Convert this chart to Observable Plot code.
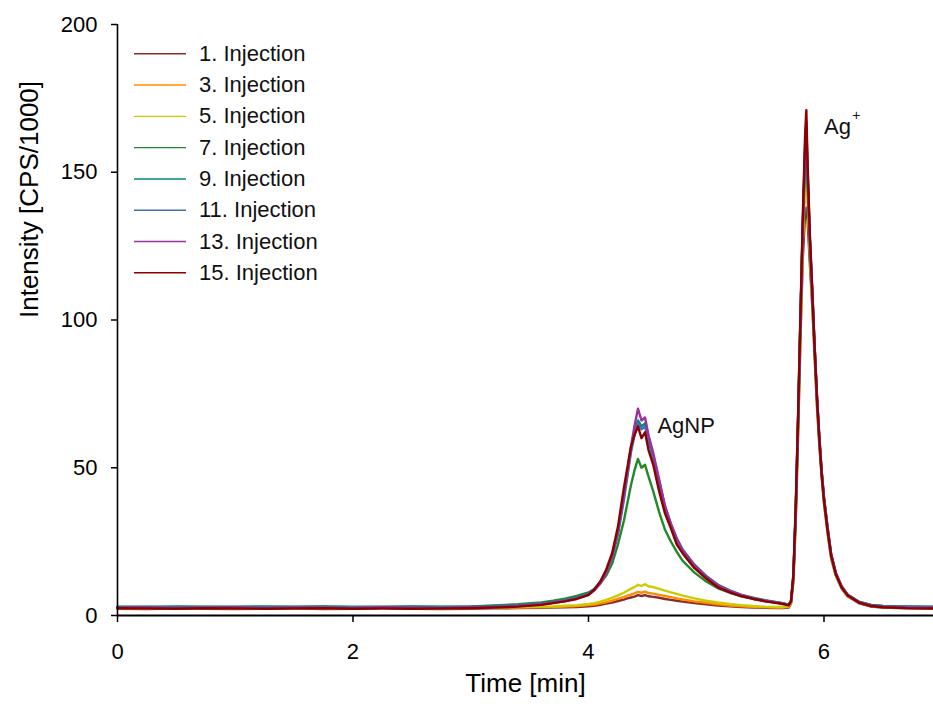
<!DOCTYPE html>
<html>
<head>
<meta charset="utf-8">
<script src="https://cdn.jsdelivr.net/npm/d3@7"></script>
<script src="https://cdn.jsdelivr.net/npm/@observablehq/plot@0.6"></script>
<style>
  html, body { margin: 0; padding: 0; background: #fff; }
  #chart { width: 933px; height: 715px; }
</style>
</head>
<body>
<div id="chart"></div>
<script>
// Time axis (min), shared by all injections
const time = [0, 0.25, 0.5, 0.75, 1, 1.25, 1.5, 1.75, 2, 2.25, 2.5, 2.75, 3, 3.2, 3.4,
  3.6, 3.7, 3.8, 3.9, 4, 4.05, 4.1, 4.15, 4.2, 4.25, 4.3, 4.33, 4.36, 4.39, 4.42, 4.45, 4.48, 4.51,
  4.55, 4.6, 4.65, 4.7, 4.75, 4.8, 4.9, 5, 5.1, 5.2, 5.3, 5.4, 5.5, 5.6, 5.65,
  5.7, 5.72, 5.74, 5.76, 5.78, 5.8, 5.82, 5.84, 5.85, 5.86, 5.88, 5.9, 5.92, 5.94, 5.96, 5.98,
  6, 6.03, 6.06, 6.1, 6.15, 6.2, 6.3, 6.4, 6.5, 6.7, 6.93];

// Intensity [CPS/1000] per injection
const inj1 = [2.3, 2.2, 2.4, 2.3, 2.2, 2.3, 2.4, 2.2, 2.3, 2.4, 2.3, 2.2, 2.3, 2.4, 2.5,
  2.6, 2.7, 2.8, 2.9, 3.1, 3.3, 3.6, 4.0, 4.4, 4.9, 5.4, 5.8, 6.1, 6.4, 6.9, 6.6, 6.9, 6.5,
  6.3, 6.0, 5.6, 5.3, 5.0, 4.7, 4.2, 3.8, 3.4, 3.1, 2.9, 2.7, 2.6, 2.5, 2.5,
  2.7, 4.0, 11.5, 32, 61, 93, 121, 136, 138, 134, 119, 105, 88, 71, 58, 47,
  38, 28, 19.5, 13.5, 9.1, 6.5, 4.1, 3.0, 2.7, 2.4, 2.3];
const inj3 = [2.5, 2.4, 2.6, 2.5, 2.4, 2.5, 2.6, 2.4, 2.5, 2.6, 2.5, 2.4, 2.5, 2.6, 2.7,
  2.8, 2.9, 3.0, 3.2, 3.5, 3.7, 4.1, 4.5, 5.0, 5.6, 6.2, 6.7, 7.1, 7.5, 8.0, 7.7, 8.1, 7.6,
  7.4, 7.0, 6.6, 6.2, 5.8, 5.4, 4.8, 4.3, 3.8, 3.4, 3.1, 2.9, 2.8, 2.7, 2.7,
  2.9, 4.2, 12, 33, 63, 96, 126, 146, 149, 141, 123, 107, 89, 72, 59, 47.5,
  38.5, 28.5, 20, 13.8, 9.3, 6.6, 4.3, 3.2, 2.9, 2.6, 2.5];
const inj5 = [2.7, 2.6, 2.8, 2.7, 2.6, 2.7, 2.8, 2.6, 2.7, 2.8, 2.6, 2.7, 2.7, 2.8, 2.9,
  3.0, 3.1, 3.3, 3.5, 3.9, 4.2, 4.7, 5.3, 6.0, 6.8, 7.7, 8.4, 9.0, 9.6, 10.4, 10.0, 10.6, 9.9,
  9.6, 9.0, 8.4, 7.8, 7.3, 6.7, 5.8, 5.0, 4.4, 3.9, 3.5, 3.2, 3.0, 2.9, 2.9,
  3.1, 4.4, 12.5, 34, 64, 97, 127, 148, 151, 143, 124, 108, 90, 73, 59.5, 48,
  39, 29, 20.5, 14, 9.5, 6.8, 4.4, 3.3, 3.0, 2.8, 2.7];
const inj7 = [3.0, 2.9, 3.1, 3.0, 2.9, 3.1, 3.0, 3.1, 2.9, 3.0, 3.1, 3.0, 3.1, 3.4, 3.8,
  4.4, 5.0, 5.7, 6.6, 7.8, 9.0, 10.8, 13.5, 17.5, 24, 32, 38, 44, 49, 53, 50, 51, 47,
  42, 35, 29, 25, 21.5, 18.5, 14.5, 11.5, 9.2, 7.7, 6.5, 5.6, 4.9, 4.4, 4.1,
  3.7, 5.0, 13, 35, 66, 100, 132, 157, 163, 149, 127, 110, 91, 74, 60, 48.5,
  39.5, 29.5, 20.8, 14.3, 9.7, 7.0, 4.6, 3.6, 3.2, 3.1, 3.0];
const inj9 = [2.9, 3.0, 2.8, 2.9, 3.0, 2.8, 2.9, 3.0, 2.9, 2.8, 3.0, 2.9, 3.0, 3.2, 3.5,
  4.1, 4.6, 5.3, 6.2, 7.5, 9.0, 11.3, 15, 20, 28, 40, 48, 56, 62, 66, 64, 65, 60,
  54, 45.5, 37, 31, 26, 22.3, 17.2, 13.4, 10.4, 8.5, 7.0, 6.0, 5.2, 4.5, 4.2,
  3.7, 5.0, 13.2, 35.5, 66, 100, 131, 155, 160, 148, 126, 109, 91, 74, 60.5, 49,
  40, 30, 21, 14.5, 9.9, 7.1, 4.6, 3.6, 3.2, 3.0, 2.9];
const inj11 = [2.8, 2.7, 2.9, 2.8, 2.7, 2.9, 2.8, 2.7, 2.8, 2.9, 2.7, 2.8, 2.9, 3.1, 3.4,
  4.0, 4.5, 5.1, 6.0, 7.2, 8.8, 11, 14.5, 19.5, 27.5, 39, 47, 55, 61, 65, 63, 64, 59,
  53, 44, 36, 30.5, 25.5, 21.8, 16.8, 13, 10, 8.2, 6.8, 5.8, 5.0, 4.4, 4.1,
  3.6, 4.9, 13, 35, 66, 100, 132, 158, 165, 150, 127, 110, 91, 74, 60, 48.5,
  39.5, 29.5, 20.5, 14.2, 9.6, 6.9, 4.5, 3.5, 3.1, 2.9, 2.8];
const inj13 = [2.6, 2.7, 2.5, 2.6, 2.7, 2.5, 2.6, 2.6, 2.5, 2.7, 2.6, 2.5, 2.7, 2.9, 3.2,
  3.8, 4.3, 4.9, 5.7, 6.9, 8.5, 10.8, 14.5, 20, 28.5, 41, 49, 57, 64, 70, 66, 67, 61,
  55, 46, 37, 31, 26, 22, 17, 13.2, 10.2, 8.3, 6.9, 5.8, 5.0, 4.3, 4.0,
  3.5, 4.7, 13.5, 36, 67, 101, 133, 160, 167, 152, 128, 111, 92, 75, 61, 49,
  40, 30, 21, 14.5, 9.8, 7.0, 4.5, 3.4, 3.0, 2.7, 2.6];
const inj15 = [2.5, 2.4, 2.3, 2.5, 2.4, 2.3, 2.4, 2.5, 2.3, 2.4, 2.3, 2.4, 2.5, 2.7, 3.0,
  3.6, 4.2, 4.8, 5.6, 7.0, 8.8, 11.5, 15.5, 21, 30, 43, 50, 57, 61, 64, 60, 62, 56,
  51, 42, 34.5, 29.5, 24, 21, 16, 12.5, 9.5, 7.8, 6.5, 5.6, 4.8, 4.2, 3.9,
  3.4, 4.8, 14, 37, 68, 102, 135, 163, 171, 154, 129, 110, 91, 74, 60, 48,
  39, 29, 20.5, 14, 9.5, 6.8, 4.3, 3.2, 2.8, 2.5, 2.4];

const names = ["1. Injection", "3. Injection", "5. Injection", "7. Injection",
  "9. Injection", "11. Injection", "13. Injection", "15. Injection"];
const colors = ["#8a2c2c", "#ff8c00", "#cccc00", "#22892a", "#00897f", "#3f6fae", "#9b319b", "#8b0000"];
const seriesValues = [inj1, inj3, inj5, inj7, inj9, inj11, inj13, inj15];

const xTicks = [0, 2, 4, 6];
const yTicks = [0, 50, 100, 150, 200];

const peakLabels = [{t: 4.585, v: 64.2, text: "AgNP"}, {t: 6.0, v: 165.4, text: "Ag"}];
const supLabels = [{t: 6.24, v: 169.2, text: "+"}];

const rows = names.flatMap((name, k) => time.map((t, i) => ({t, v: seriesValues[k][i], name})));
const legendRows = names.map((name, i) => ({name, x1: 0.14, x2: 0.582, xt: 0.692, y: 190.1 - i * 10.59}));

const font = "'Liberation Sans', Arial, Helvetica, sans-serif";

const chart = Plot.plot({
  width: 933,
  height: 715,
  marginLeft: 117,
  marginRight: 0,
  marginTop: 24,
  marginBottom: 100,
  style: {fontFamily: font, background: "#fff", color: "#000", overflow: "visible"},
  x: {domain: [0, 6.93]},
  y: {domain: [0, 200]},
  color: {domain: names, range: colors},
  marks: [
    Plot.line(rows, {x: "t", y: "v", z: "name", stroke: "name", strokeWidth: 2.4, strokeLinejoin: "round"}),
    Plot.ruleX([0], {stroke: "#000", strokeWidth: 1.6}),
    Plot.ruleY([0], {stroke: "#000", strokeWidth: 1.8}),
    Plot.axisX({ticks: xTicks, tickSize: 7, tickPadding: 21, fontSize: 22, label: null, tickFormat: d => String(d), stroke: "#000", strokeWidth: 1.5}),
    Plot.axisY({ticks: yTicks, tickSize: 6, tickPadding: 14, fontSize: 22, label: null, tickFormat: d => String(d), stroke: "#000", strokeWidth: 1.5}),
    Plot.text(["Time [min]"], {frameAnchor: "bottom", dy: 76, fontSize: 26, fill: "#000"}),
    Plot.text(["Intensity [CPS/1000]"], {frameAnchor: "left", rotate: -90, dx: -88, dy: -2, fontSize: 26, fill: "#000"}),
    Plot.link(legendRows, {x1: "x1", x2: "x2", y1: "y", y2: "y", stroke: "name", strokeWidth: 1.4}),
    Plot.text(legendRows, {x: "xt", y: "y", text: "name", textAnchor: "start", fontSize: 22, fill: "#111"}),
    Plot.text(peakLabels, {x: "t", y: "v", text: "text", textAnchor: "start", fontSize: 22, fill: "#111"}),
    Plot.text(supLabels, {x: "t", y: "v", text: "text", textAnchor: "start", fontSize: 14, fill: "#111"})
  ]
});
document.getElementById("chart").append(chart);
</script>
</body>
</html>
